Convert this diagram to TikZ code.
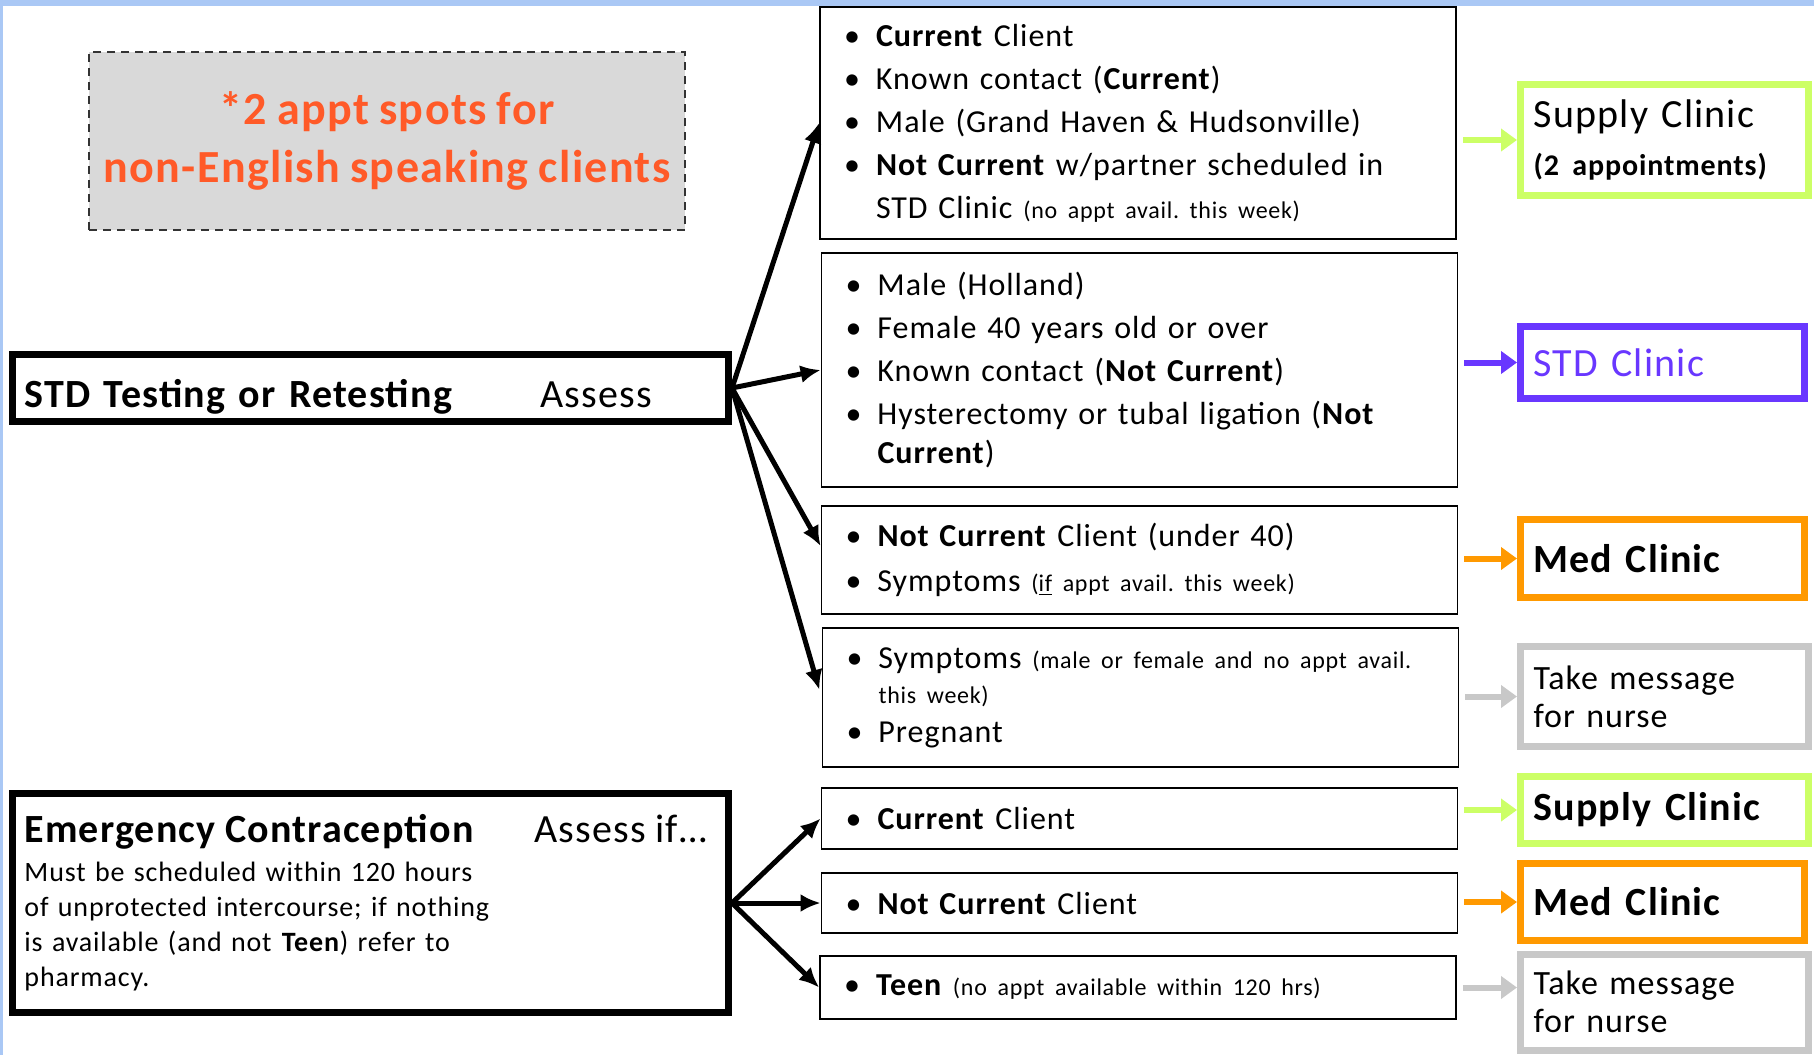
\documentclass[tikz,border=0pt]{standalone}
\usepackage{fontspec}
\setmainfont{Carlito}[LetterSpace=3,WordSpace=0.85]
\usetikzlibrary{arrows.meta}
\definecolor{bandblue}{RGB}{170,200,245}
\definecolor{notegray}{RGB}{217,217,217}
\definecolor{notered}{RGB}{255,90,40}
\definecolor{supplygreen}{RGB}{204,255,102}
\definecolor{stdpurple}{RGB}{105,55,255}
\definecolor{medorange}{RGB}{255,153,0}
\definecolor{nursegray}{RGB}{200,200,200}
\frenchspacing
\newcommand{\bul}{\makebox[16pt][l]{\textbullet}}
\newcommand{\ind}{\hspace*{16pt}}
\newcommand{\sm}[1]{{\fontsize{12}{14}\selectfont #1}}
\begin{document}
\begin{tikzpicture}[x=0.5pt,y=-0.5pt,
  listbox/.style={draw,line width=0.9pt,inner xsep=12pt,inner ysep=2pt,
    text width=294pt,align=left,font=\fontsize{16}{21.5}\selectfont},
  mainbox/.style={draw,line width=3.5pt,inner xsep=6pt,inner ysep=2pt,
    text width=346pt,align=left},
  clinic/.style={draw=#1,line width=3.5pt,inner xsep=6.5pt,inner ysep=2pt,
    text width=131pt,align=left,font=\fontsize{20}{24}\selectfont},
  notebox/.style={draw=black!80,dash pattern=on 4pt off 3pt,line width=1pt,
    fill=notegray,minimum width=298pt,minimum height=89pt,align=center,
    text=notered,font=\fontsize{23}{29}\selectfont\bfseries},
  assessarrow/.style={line width=2.5pt,-{Latex[length=10pt,width=9pt]}},
  toclinic/.style={draw=#1,line width=3pt,shorten <=3pt,
    -{Triangle[length=8pt,width=11pt]}},
]
\useasboundingbox (0,0) rectangle (1814,1055);
% Frame
\fill[bandblue] (0,0) rectangle (1814,6);
\fill[bandblue] (0,0) rectangle (3,1055);

% Note
\node[notebox] (note) at (387,141) {*2 appt spots for\\non-English speaking clients};

% Left boxes
\node[mainbox,minimum height=33.5pt,text height=21pt,text depth=1.5pt,
  font=\fontsize{20}{24}\selectfont] (std) at (370.5,388)
  {\makebox[258pt][l]{\textbf{STD Testing or Retesting}}Assess};
\node[mainbox,minimum height=109.5pt,font=\fontsize{14}{17.5}\selectfont] (ec) at (370.5,903)
  {{\fontsize{20}{24}\selectfont\makebox[255pt][l]{\textbf{Emergency Contraception}}Assess if\ldots}\\[2pt]
   Must be scheduled within 120 hours\\
   of unprotected intercourse; if nothing\\
   is available (and not \textbf{Teen}) refer to\\
   pharmacy.};

% Lists
\node[listbox,minimum height=116pt] (b1) at (1138,123)
  {\bul\textbf{Current} Client\\
   \bul Known contact (\textbf{Current})\\
   \bul Male (Grand Haven \& Hudsonville)\\
   \bul\textbf{Not Current} w/partner scheduled in\\
   \ind STD Clinic \sm{(no appt avail. this week)}};
\node[listbox,minimum height=117pt] (b2) at (1139.5,370)
  {\bul Male (Holland)\\
   \bul Female 40 years old or over\\
   \bul Known contact (\textbf{Not Current})\\
   \bul Hysterectomy or tubal ligation (\textbf{Not}\\[-2pt]
   \ind\textbf{Current})};
\node[listbox,minimum height=54pt] (b3) at (1139.5,560)
  {\bul\textbf{Not Current} Client (under 40)\\[1pt]
   \bul Symptoms \sm{(\underline{if} appt avail. this week)}};
\node[listbox,minimum height=69.5pt] (b4) at (1140.5,697.5)
  {\bul Symptoms \sm{(male or female and no appt avail.}\\[-4pt]
   \ind\sm{this week)}\\[-2pt]
   \bul Pregnant};
\node[listbox,minimum height=30.5pt] (b5) at (1139.5,818.5) {\bul\textbf{Current} Client};
\node[listbox,minimum height=30pt] (b6) at (1139.5,903) {\bul\textbf{Not Current} Client};
\node[listbox,minimum height=31.5pt] (b7) at (1138,987.5)
  {\bul\textbf{Teen} \sm{(no appt available within 120 hrs)}};

% Clinics
\node[clinic=supplygreen,minimum height=55.5pt] (sc1) at (1664.5,140)
  {Supply Clinic\\{\fontsize{15}{18}\selectfont\textbf{(2 appointments)}}};
\node[clinic=stdpurple,text=stdpurple,text width=129pt,minimum height=36pt] (stdc) at (1662.5,362.5) {STD Clinic};
\node[clinic=medorange,text width=129pt,minimum height=39pt] (med1) at (1662.5,558.5) {\textbf{Med Clinic}};
\node[clinic=nursegray,minimum height=50pt,font=\fontsize{17}{19}\selectfont] (nurse1) at (1664.5,696.5)
  {Take message\\for nurse};
\node[clinic=supplygreen,minimum height=33.5pt] (sc2) at (1664.5,810) {\textbf{Supply Clinic}};
\node[clinic=medorange,text width=129pt,minimum height=38.5pt] (med2) at (1662.5,902) {\textbf{Med Clinic}};
\node[clinic=nursegray,minimum height=48pt,font=\fontsize{17}{19}\selectfont] (nurse2) at (1664.5,1002)
  {Take message\\for nurse};

% Assess arrows
\draw[assessarrow] (std.east) -- (b1.west);
\draw[assessarrow] (std.east) -- (b2.west);
\draw[assessarrow] (std.east) -- ([yshift=7pt]b3.west);
\draw[assessarrow,shorten >=4pt] (std.east) -- (b4.west);
\foreach \b in {b5,b6,b7}
  \draw[assessarrow] (ec.east) -- (\b.west);

% Clinic arrows
\draw[toclinic=supplygreen] (b1.east |- sc1.west) -- (sc1.west);
\draw[toclinic=stdpurple] (b2.east |- stdc.west) -- (stdc.west);
\draw[toclinic=medorange] (b3.east |- med1.west) -- (med1.west);
\draw[toclinic=nursegray] (b4.east |- nurse1.west) -- (nurse1.west);
\draw[toclinic=supplygreen] (b5.east |- sc2.west) -- (sc2.west);
\draw[toclinic=medorange] (b6.east |- med2.west) -- (med2.west);
\draw[toclinic=nursegray] (b7.east) -- (b7.east -| nurse2.west);
\end{tikzpicture}
\end{document}
